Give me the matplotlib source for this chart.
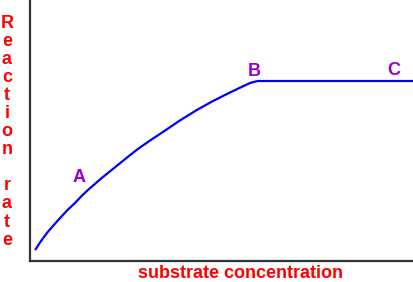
import matplotlib
matplotlib.use("Agg")
import matplotlib.pyplot as plt

# substrate concentration vs reaction rate (0-100 scale)
substrate = [1.2, 2.7, 4.3, 6.0, 7.7, 9.6, 11.6, 13.3, 15.0, 16.8, 18.6, 20.7, 22.8,
             25.4, 28.0, 31.2, 34.5, 38.9, 43.4, 47.3, 51.2, 54.3, 57.2, 58.4, 59.3, 100]
rate = [4.0, 7.4, 10.6, 13.5, 16.3, 19.3, 22.1, 24.7, 27.1, 29.4, 31.7, 34.2, 36.7,
        39.8, 42.8, 46.1, 49.3, 53.7, 57.8, 61.0, 63.9, 66.1, 68.1, 68.6, 68.9, 68.9]

point_names = ["A", "B", "C"]
point_x = [12.6, 58.3, 94.8]
point_y = [31.7, 72.7, 73.1]

ylabel = "Reaction  rate"
xlabel = "substrate concentration"

plt.rcParams['font.family'] = ['Liberation Sans', 'DejaVu Sans']

fig = plt.figure(figsize=(4.14, 2.82), dpi=100)
ax = fig.add_axes([30.5 / 414, 21.5 / 282, 1 - 30.5 / 414, 1 - 21.5 / 282])

ax.plot(substrate, rate, color='#0000ff', lw=1.6, solid_capstyle='butt')

for name, x, y in zip(point_names, point_x, point_y):
    ax.text(x, y, name, color='#9900cc', fontsize=13, fontweight='bold',
            ha='center', va='center')

ax.set_xlim(0, 100)
ax.set_ylim(0, 100)
ax.set_xticks([])
ax.set_yticks([])
for side in ['top', 'right']:
    ax.spines[side].set_visible(False)
for side in ['left', 'bottom']:
    ax.spines[side].set_color('#333333')
    ax.spines[side].set_linewidth(1.6)

# vertical label, one letter per line
letters = list(ylabel.replace("  ", " "))
y0 = 23
step = 18.1
for i, ch in enumerate(letters):
    if ch == " ":
        continue
    fig.text(7 / 414, 1 - (y0 + i * step) / 282, ch, color='#ff0000',
             fontsize=13, fontweight='bold', ha='center', va='center')

fig.text(240.5 / 414, 1 - 274 / 282, xlabel, color='#ff0000', fontsize=13,
         fontweight='bold', ha='center', va='center')

fig.savefig("out.png", dpi=100)
